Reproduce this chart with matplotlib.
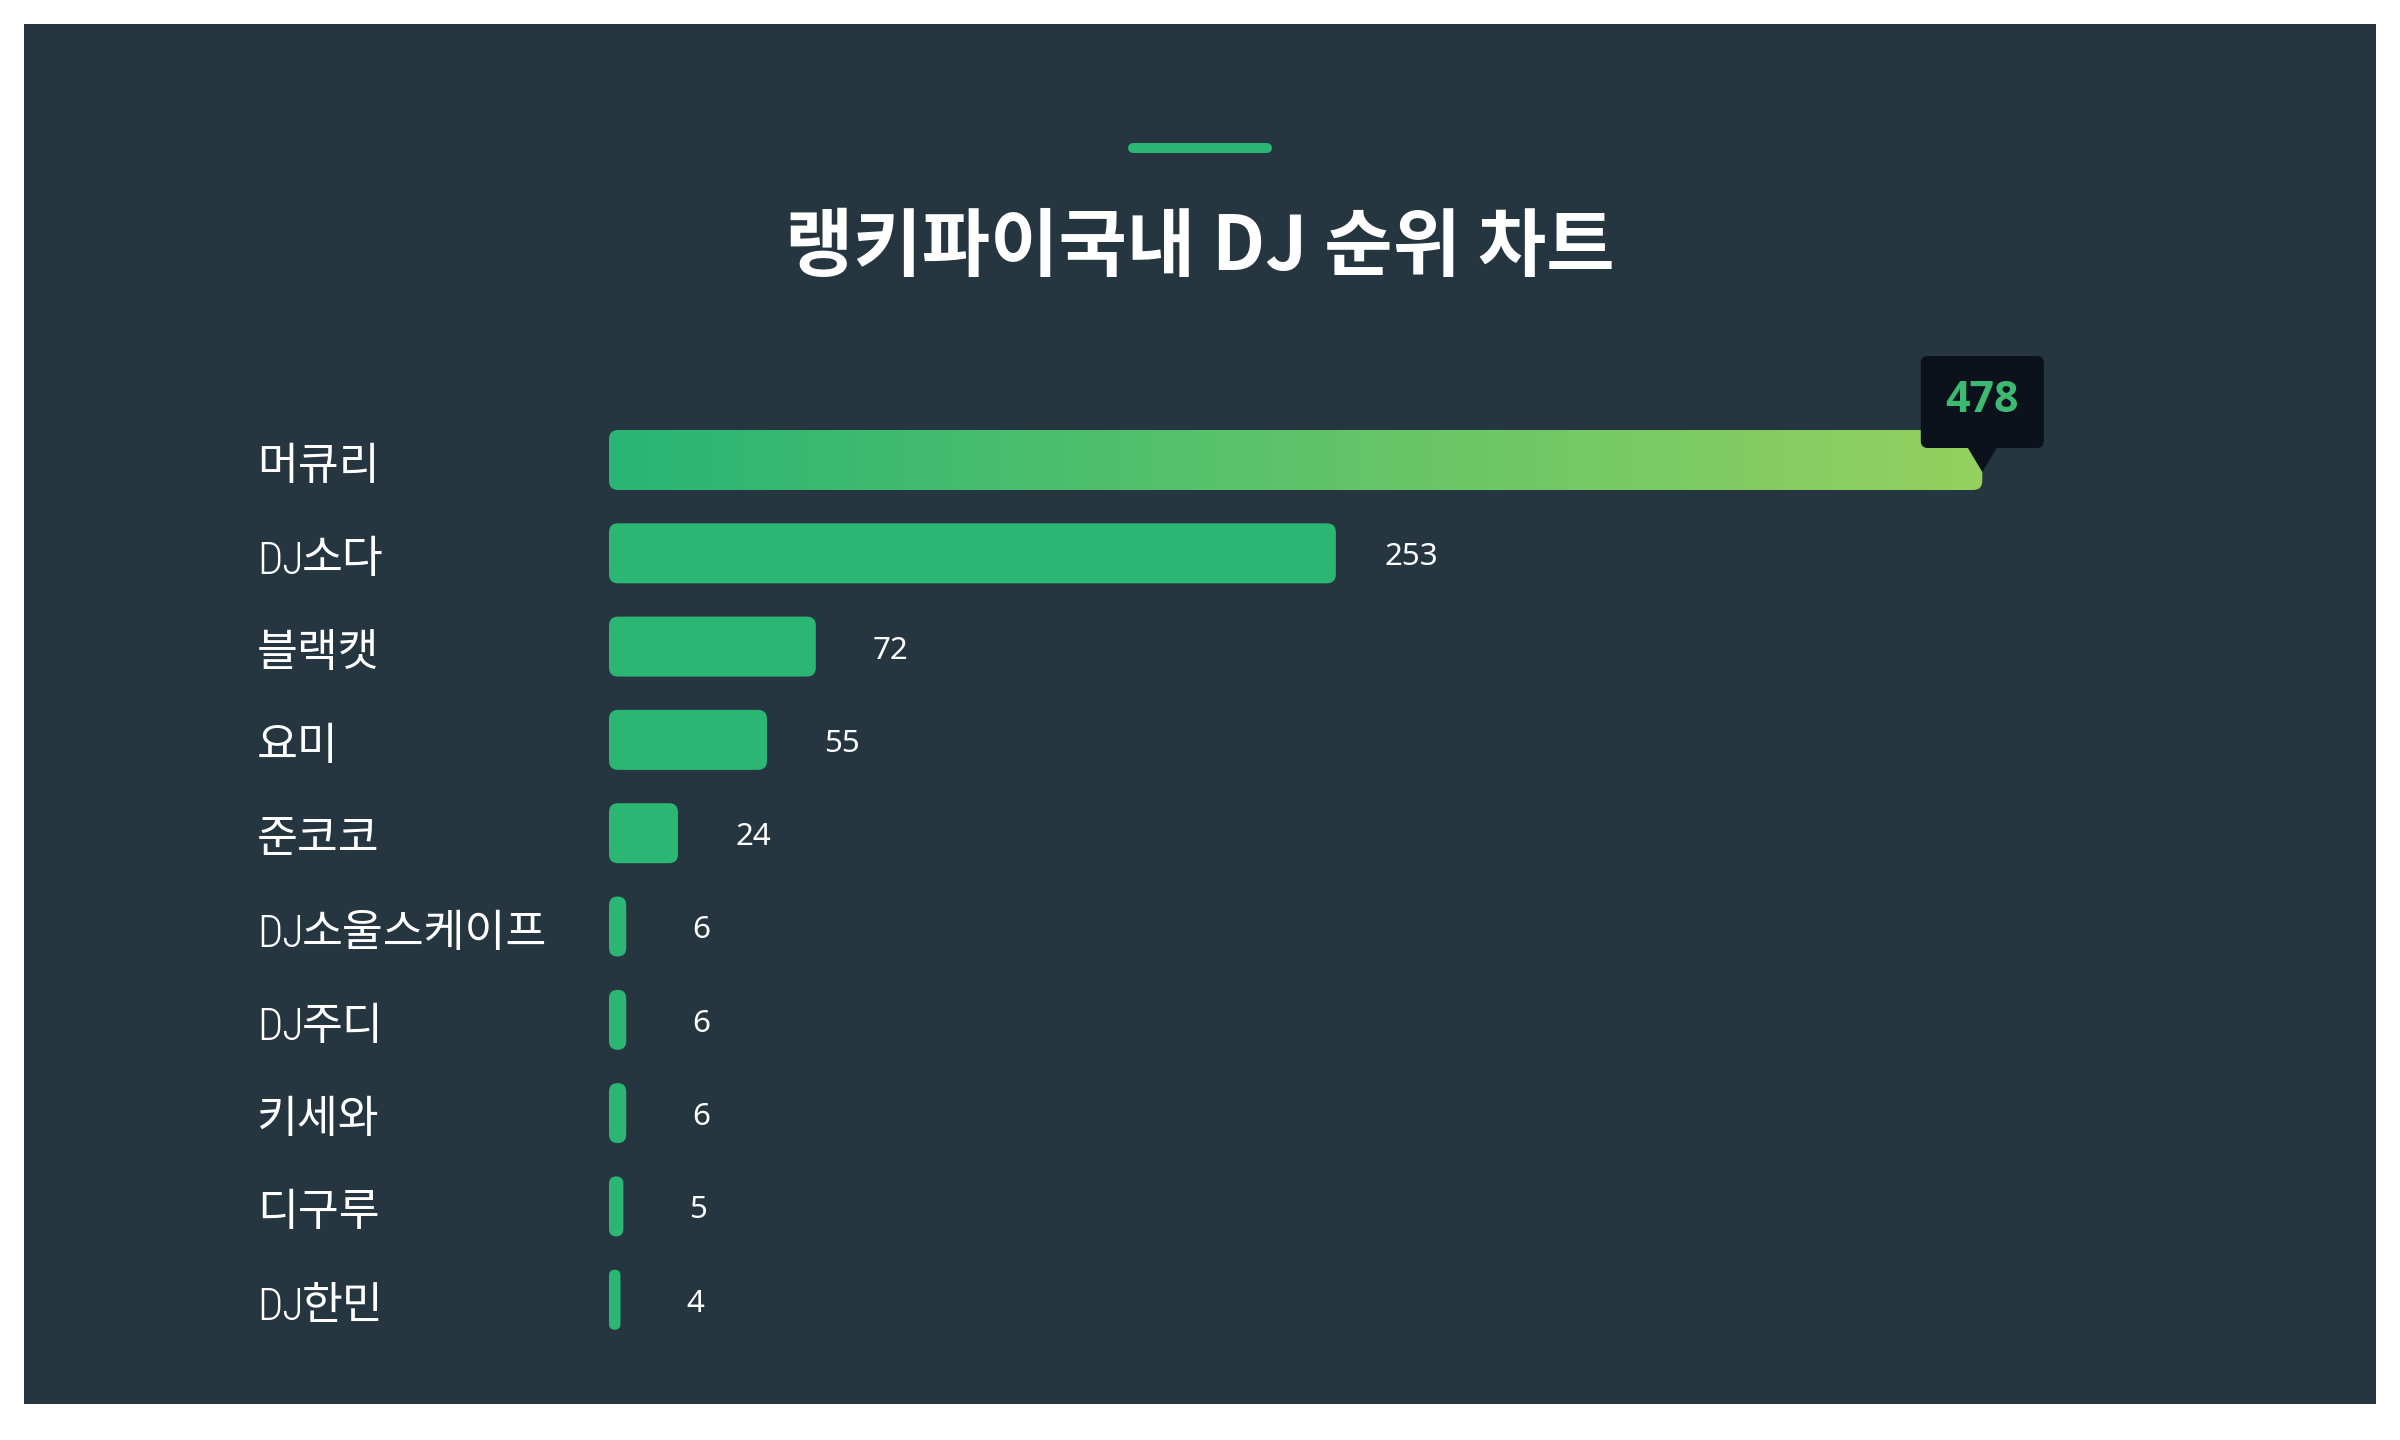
import numpy as np
import matplotlib
matplotlib.use("Agg")
import matplotlib.pyplot as plt
from matplotlib.patches import FancyBboxPatch, Rectangle, Polygon
from matplotlib.lines import Line2D
from matplotlib.colors import LinearSegmentedColormap
import matplotlib.transforms as mtrans

# ---- data ----
categories = ["머큐리", "DJ소다", "블랙캣", "요미", "준코코",
              "DJ소울스케이프", "DJ주디", "키세와", "디구루", "DJ한민"]
values = [478, 253, 72, 55, 24, 6, 6, 6, 5, 4]
title = "랭키파이국내 DJ 순위 차트"

# ---- style ----
BG = "#263640"
BAR = "#2bb673"
GRAD = ["#29b574", "#94d15f"]
TIP_BG = "#0b121b"
TIP_FG = "#3cba72"
KR = ["Noto Sans CJK KR", "DejaVu Sans"]
LAT = ["Noto Sans", "DejaVu Sans"]
LATB = ["Open Sans", "DejaVu Sans"]
THIN = ["Roboto Condensed", "Roboto", "DejaVu Sans"]

W, H, DPI = 2400, 1440, 100
fig = plt.figure(figsize=(W / DPI, H / DPI), dpi=DPI, facecolor="white")
fig.patches.append(Rectangle((24 / W, 1 - 1404 / H), 2352 / W, 1380 / H,
                             transform=fig.transFigure, facecolor=BG,
                             edgecolor="none", zorder=-5))

px_per_unit = 2.873
row_px = 93.3
first_row_px = 460
ax_left, ax_right, ax_top, ax_bot = 609, 2376, 320, 1380
ax = fig.add_axes([ax_left / W, 1 - ax_bot / H,
                   (ax_right - ax_left) / W, (ax_bot - ax_top) / H])
ax.set_facecolor("none")
ax.axis("off")

bar_h = 60 / row_px
r_px = 9
aspect = px_per_unit / row_px
cmap = LinearSegmentedColormap.from_list("g", GRAD)

for i, (cat, v) in enumerate(zip(categories, values)):
    r = min(r_px, v * px_per_unit / 2) / px_per_unit
    if i == 0:
        patch = FancyBboxPatch((0, i - bar_h / 2), v, bar_h,
                               boxstyle=f"round,pad=0,rounding_size={r}",
                               mutation_aspect=aspect, facecolor="none",
                               edgecolor="none", zorder=2)
        ax.add_patch(patch)
        im = ax.imshow(np.linspace(0, 1, 256).reshape(1, -1), cmap=cmap,
                       extent=(0, v, i + bar_h / 2, i - bar_h / 2),
                       aspect="auto", zorder=2, interpolation="bilinear")
        im.set_clip_path(patch)
    else:
        patch = FancyBboxPatch((0, i - bar_h / 2), v, bar_h,
                               boxstyle=f"round,pad=0,rounding_size={r}",
                               mutation_aspect=aspect, facecolor=BAR,
                               edgecolor="none", zorder=2)
        ax.add_patch(patch)
        ax.text(v + 75 / px_per_unit, i + 4 / row_px, str(v), ha="center",
                va="center", fontsize=22.5, color="white", family=LAT)

ax.set_xlim(0, (ax_right - ax_left) / px_per_unit)
ax.set_ylim((ax_bot - first_row_px) / row_px, (ax_top - first_row_px) / row_px)

# category labels (Latin prefix drawn in a thin face, Hangul after it)
renderer = fig.canvas.get_renderer()
lbl_tr = mtrans.blended_transform_factory(fig.transFigure, ax.transData)
for i, cat in enumerate(categories):
    k = 0
    while k < len(cat) and cat[k].isascii():
        k += 1
    x0 = 257 / W
    y = i + 6 / row_px
    if k > 0:
        t = ax.text(x0, i + 8 / row_px, cat[:k], transform=lbl_tr,
                    ha="left", va="center", fontsize=32, color="white",
                    family=THIN, fontweight=100, clip_on=False)
        ext = t.get_window_extent(renderer)
        x0 = (ext.x1 - 2) / W
    if k < len(cat):
        ax.text(x0, y, cat[k:], transform=lbl_tr, ha="left",
                va="center", fontsize=32, color="white", family=KR,
                fontweight="light", clip_on=False)

# tooltip on the top bar
ident = mtrans.IdentityTransform()
xd, yd = ax.transData.transform((values[0], 0))
bw, bh = 123, 92
box = FancyBboxPatch((xd - bw / 2, yd + 12), bw, bh,
                     boxstyle="round,pad=0,rounding_size=7",
                     transform=ident, facecolor=TIP_BG, edgecolor="none",
                     zorder=5, clip_on=False)
fig.add_artist(box)
tri = Polygon([(xd - 15, yd + 13), (xd + 15, yd + 13), (xd, yd - 12)],
              closed=True, transform=ident, facecolor=TIP_BG,
              edgecolor="none", zorder=5, clip_on=False)
fig.add_artist(tri)
fig.text(xd, yd + 12 + bh / 2 + 1, str(values[0]), transform=ident,
         ha="center", va="center", fontsize=31, fontweight="bold",
         color=TIP_FG, family=LATB, zorder=6)

# title accent line and title
fig.add_artist(Line2D([1133 / W, 1267 / W], [1 - 148 / H, 1 - 148 / H],
                      transform=fig.transFigure, color=BAR, linewidth=7.2,
                      solid_capstyle="round"))
fig.text(0.5, 1 - 248 / H, title, ha="center", va="center", fontsize=53.5,
         fontweight=900, color="white", family=KR)

fig.savefig("out.png", dpi=DPI, facecolor="white")
